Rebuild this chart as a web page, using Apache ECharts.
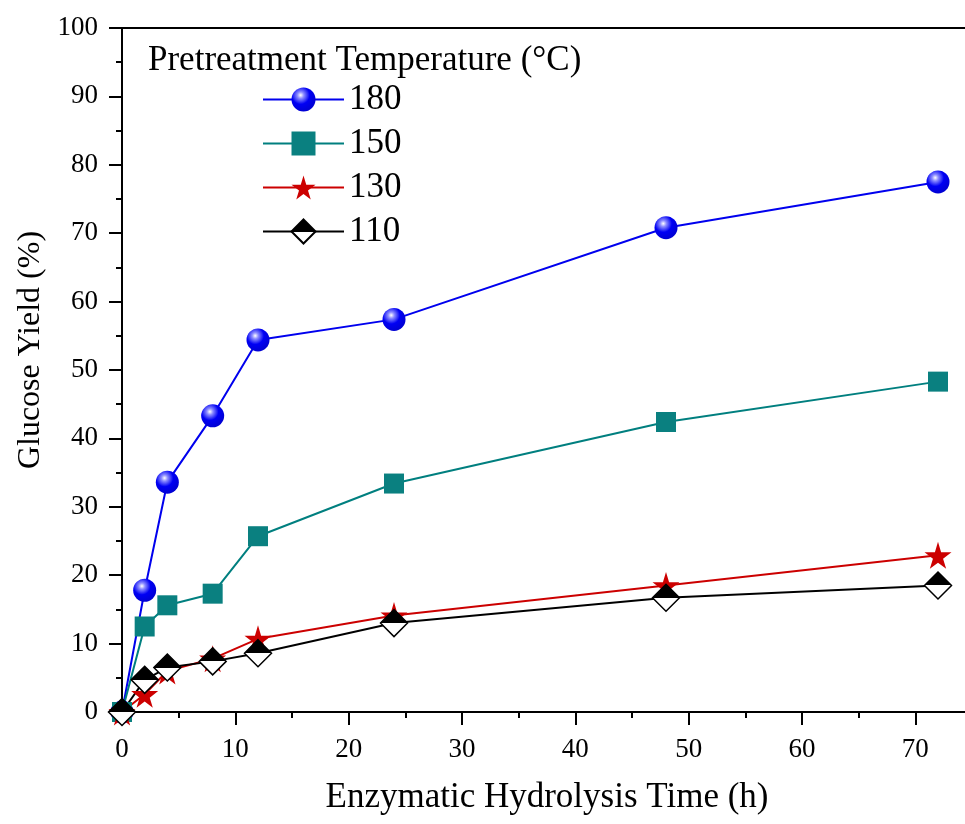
<!DOCTYPE html>
<html lang="en">
<head>
    <meta charset="UTF-8">
    <title>Glucose Yield</title>
    <script src="https://cdn.jsdelivr.net/npm/echarts@6/dist/echarts.min.js"></script>
    <style>
        body { margin: 0; background: #fff; }
        #main { width: 965px; height: 824px; }
    </style>
</head>
<body>
<div id="main"></div>
<script>
    // hydrolysis time (h)
    var times = [0, 2, 4, 8, 12, 24, 48, 72];
    // glucose yield (%) per pretreatment temperature
    var yield180 = [0, 17.8, 33.6, 43.3, 54.4, 57.4, 70.8, 77.5];
    var yield150 = [0, 12.5, 15.6, 17.3, 25.7, 33.4, 42.4, 48.3];
    var yield130 = [0, 2.6, 6.0, 7.8, 10.7, 14.1, 18.5, 22.9];
    var yield110 = [0, 4.7, 6.5, 7.4, 8.6, 13.0, 16.7, 18.5];
    var names = ['180', '150', '130', '110'];

    function pairs(ys) {
        var out = [];
        for (var i = 0; i < times.length; i++) {
            out.push([times[i], ys[i]]);
        }
        return out;
    }

    var font = 'Liberation Serif';
    var starPath = 'path://M50,0 L61,35 L98,35 L68,57 L79,91 L50,70 L21,91 L32,57 L2,35 L39,35 Z';

    var sphere = new echarts.graphic.RadialGradient(0.38, 0.32, 0.75, [
        {offset: 0, color: '#ffffff'},
        {offset: 0.18, color: '#8c8cff'},
        {offset: 0.5, color: '#0000f4'},
        {offset: 1, color: '#0000cc'}
    ]);
    var halfDiamond = new echarts.graphic.LinearGradient(0, 0, 0, 1, [
        {offset: 0, color: '#000'},
        {offset: 0.5, color: '#000'},
        {offset: 0.5, color: '#fff'},
        {offset: 1, color: '#fff'}
    ]);

    var chart = echarts.init(document.getElementById('main'));
    var option = {
        animation: false,
        backgroundColor: '#fff',
        title: {
            text: 'Pretreatment Temperature (°C)',
            left: 143,
            top: 38,
            textStyle: {fontFamily: font, fontSize: 35, fontWeight: 'normal', color: '#000'}
        },
        legend: {
            data: names,
            orient: 'vertical',
            left: 262,
            top: 82,
            padding: 0,
            itemWidth: 81,
            itemHeight: 30,
            itemGap: 9,
            textStyle: {fontFamily: font, fontSize: 35, color: '#000'}
        },
        grid: {left: 122, right: -7, top: 28, bottom: 112, outerBoundsMode: 'none'},
        xAxis: [{
            type: 'value',
            min: 0,
            max: 75,
            interval: 10,
            name: 'Enzymatic Hydrolysis Time (h)',
            nameLocation: 'middle',
            nameGap: 68,
            nameMoveOverlap: false,
            nameTextStyle: {fontFamily: font, fontSize: 35, color: '#000'},
            axisLine: {lineStyle: {color: '#000', width: 2}},
            axisTick: {inside: false, length: 13, lineStyle: {width: 2}},
            minorTick: {show: true, splitNumber: 2, length: 6, lineStyle: {color: '#000', width: 2}},
            axisLabel: {fontFamily: font, fontSize: 27, color: '#000', margin: 24, showMaxLabel: false},
            splitLine: {show: false}
        }, {
            type: 'value',
            position: 'top',
            min: 0,
            max: 75,
            axisLine: {lineStyle: {color: '#000', width: 2}},
            axisTick: {show: false},
            axisLabel: {show: false},
            splitLine: {show: false}
        }],
        yAxis: {
            type: 'value',
            min: 0,
            max: 100,
            interval: 10,
            name: 'Glucose Yield (%)',
            nameLocation: 'middle',
            nameGap: 75,
            nameMoveOverlap: false,
            nameTextStyle: {fontFamily: font, fontSize: 32, color: '#000', padding: [0, 0, 0, 40]},
            axisLine: {show: true, lineStyle: {color: '#000', width: 2}},
            axisTick: {show: true, inside: false, length: 13, lineStyle: {width: 2}},
            minorTick: {show: true, splitNumber: 2, length: 6, lineStyle: {color: '#000', width: 2}},
            axisLabel: {fontFamily: font, fontSize: 27, color: '#000', margin: 24},
            splitLine: {show: false}
        },
        series: [{
            name: '180',
            type: 'line',
            data: pairs(yield180),
            symbol: 'circle',
            symbolSize: 23,
            lineStyle: {color: '#0000ee', width: 2},
            itemStyle: {color: sphere}
        }, {
            name: '150',
            type: 'line',
            data: pairs(yield150),
            symbol: 'rect',
            symbolSize: 20,
            lineStyle: {color: '#007f7f', width: 2},
            itemStyle: {color: '#0a8080'}
        }, {
            name: '130',
            type: 'line',
            data: pairs(yield130),
            symbol: starPath,
            symbolSize: 27,
            lineStyle: {color: '#cc0000', width: 2},
            itemStyle: {color: '#cc0000'}
        }, {
            name: '110',
            type: 'line',
            data: pairs(yield110),
            symbol: 'diamond',
            symbolSize: 27,
            lineStyle: {color: '#000', width: 2},
            itemStyle: {color: halfDiamond, borderColor: '#000', borderWidth: 1.5}
        }]
    };
    chart.setOption(option);
</script>
</body>
</html>
